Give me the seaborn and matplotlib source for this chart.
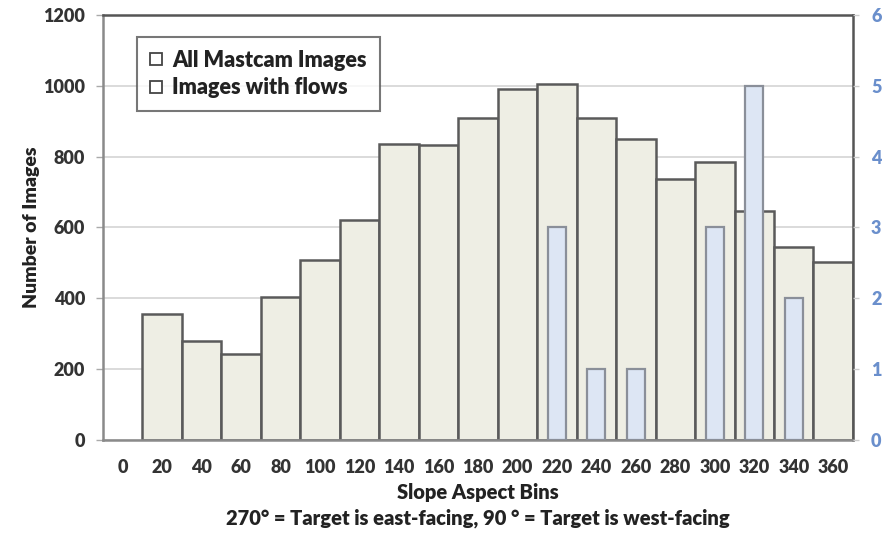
import numpy as np
import pandas as pd
import matplotlib
matplotlib.use("Agg")
import matplotlib.pyplot as plt
from matplotlib.lines import Line2D
import seaborn as sns

# Slope aspect bins (degrees)
bins = ["0", "20", "40", "60", "80", "100", "120", "140", "160", "180",
        "200", "220", "240", "260", "280", "300", "320", "340", "360"]

# All Mastcam images per bin (left axis)
all_bins = ["20", "40", "60", "80", "100", "120", "140", "160", "180",
            "200", "220", "240", "260", "280", "300", "320", "340", "360"]
all_counts = [356, 279, 243, 405, 507, 622, 837, 834, 910,
              992, 1006, 910, 849, 737, 784, 647, 544, 502]

# Images with flows per bin (right axis)
flow_bins = ["220", "240", "260", "300", "320", "340"]
flow_counts = [3, 1, 1, 3, 5, 2]

left_ticks = [0, 200, 400, 600, 800, 1000, 1200]
right_ticks = [0, 1, 2, 3, 4, 5, 6]

df_all = pd.DataFrame({"bin": all_bins, "count": all_counts})
df_flow = pd.DataFrame({"bin": flow_bins, "count": flow_counts})

sns.set_style("white")
plt.rcParams["font.family"] = ["Lato", "DejaVu Sans"]

fig = plt.figure(figsize=(8.85, 5.35), dpi=100)
ax = fig.add_axes([0.1164, 0.1776, 0.8474, 0.7944])

sns.barplot(data=df_all, x="bin", y="count", order=bins, ax=ax,
            color="#eeeee4", width=1.0, edgecolor="#5a5a5a", linewidth=1.8,
            saturation=1, zorder=2)

ax.set_ylim(0, 1200)
ax.set_xlim(-0.5, len(bins) - 0.5)
ax.set_yticks(left_ticks)
ax.set_yticklabels([str(t) for t in left_ticks], fontsize=13,
                   fontweight="heavy", color="#333333")
ax.set_xticks(range(len(bins)))
ax.set_xticklabels(bins, fontsize=13, fontweight="heavy", color="#333333")
ax.grid(axis="y", color="#d4d4d4", linewidth=1.2, zorder=0)
ax.set_axisbelow(True)
ax.tick_params(axis="x", length=0, pad=14)
ax.tick_params(axis="y", length=5, width=1, color="#aaaaaa", pad=8)

ax.set_ylabel("Number of Images", fontsize=14, fontweight="heavy",
              color="#222222", labelpad=2)
ax.set_xlabel("Slope Aspect Bins\n270° = Target is east-facing, 90 ° = Target is west-facing",
              fontsize=14.5, fontweight="heavy", color="#222222", labelpad=5,
              linespacing=1.4)

for side in ["left", "bottom"]:
    ax.spines[side].set_color("#8a8a8a")
    ax.spines[side].set_linewidth(1.8)
for side in ["top", "right"]:
    ax.spines[side].set_color("#555555")
    ax.spines[side].set_linewidth(1.8)

ax2 = ax.twinx()
sns.barplot(data=df_flow, x="bin", y="count", order=bins, ax=ax2,
            color="#dde6f4", width=0.46, edgecolor="#8a8f99", linewidth=1.6,
            saturation=1, zorder=3)
ax2.set_ylim(0, 6)
ax2.set_yticks(right_ticks)
ax2.set_yticklabels([str(t) for t in right_ticks], fontsize=13,
                    fontweight="heavy", color="#6a8fcc")
ax2.tick_params(axis="y", length=4, width=1, color="#cccccc", pad=9)
ax2.set_ylabel("")
ax2.set_xlabel("")
for side in ax2.spines:
    ax2.spines[side].set_visible(False)

handles = [
    Line2D([], [], linestyle="none", marker="s", markersize=9,
           markerfacecolor="white", markeredgecolor="#444444",
           markeredgewidth=1.3, label="All Mastcam Images"),
    Line2D([], [], linestyle="none", marker="s", markersize=9,
           markerfacecolor="white", markeredgecolor="#444444",
           markeredgewidth=1.3, label="Images with flows"),
]
leg = ax2.legend(handles=handles, loc="upper left",
                 bbox_to_anchor=(0.045, 0.948), frameon=True, fancybox=False,
                 prop={"weight": "heavy", "size": 15.5}, handlelength=0.6,
                 handletextpad=0.45, labelspacing=0.3, borderpad=0.6,
                 borderaxespad=0)
leg.get_frame().set_edgecolor("#555555")
leg.get_frame().set_linewidth(1.5)
for t in leg.get_texts():
    t.set_color("#222222")

fig.savefig("out.png", dpi=100, facecolor="white")
